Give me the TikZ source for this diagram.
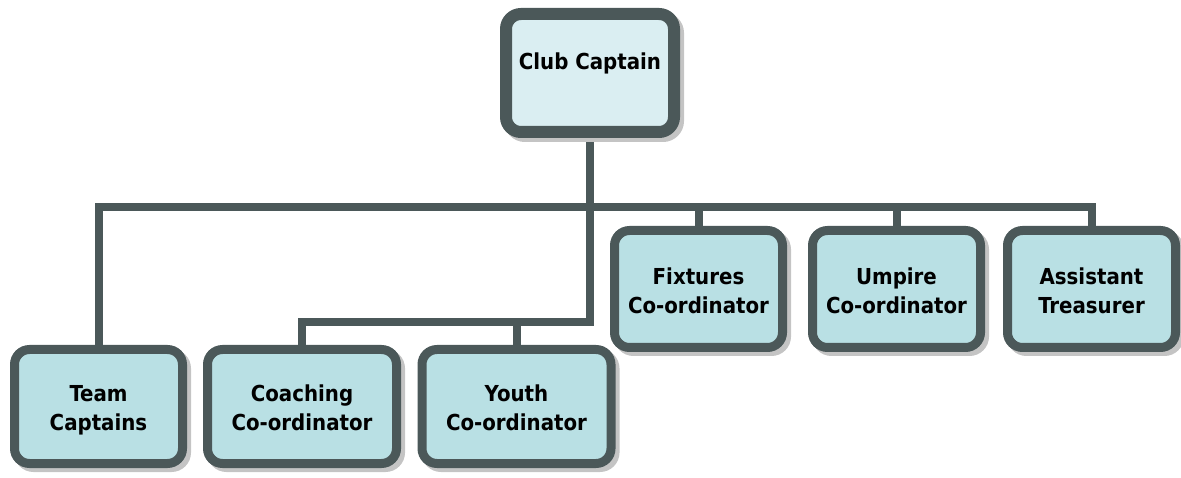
\documentclass[tikz,border=0pt]{standalone}
\usepackage{fontspec}
\usetikzlibrary{backgrounds}
\newfontfamily\boxfont{DejaVu Sans Condensed}[BoldFont={DejaVu Sans Condensed Bold}]
\definecolor{bord}{HTML}{4B5859}
\definecolor{lowfill}{HTML}{B9E0E4}
\definecolor{topfill}{HTML}{DAEEF2}
\definecolor{shad}{HTML}{C4C4C4}
\newcommand\twoline[2]{\rule{0pt}{25.7pt}#1\\#2\rule[-6pt]{0pt}{6pt}}
\begin{document}
\begin{tikzpicture}[x=1pt,y=-1pt,
  orgbox/.style={draw=bord, line width=9pt, rounded corners=15pt, fill=lowfill,
    minimum width=168pt, minimum height=114pt, align=center, inner sep=0pt,
    font=\boxfont\bfseries\fontsize{22}{29}\selectfont,
    preaction={fill=shad, draw=shad, transform canvas={shift={(4pt,-4pt)}}}},
  widebox/.style={orgbox, minimum width=189pt},
  upbox/.style={orgbox, minimum height=117pt},
  topbox/.style={orgbox, fill=topfill, line width=12pt, minimum width=168pt, minimum height=118pt},
  conn/.style={draw=bord, line width=8pt}]
\useasboundingbox (0,0) rectangle (1181,478);
\node[topbox] (cc) at (590,73) {Club Captain\rule[-23pt]{0pt}{1pt}};
\node[orgbox] (team) at (98.5,406.5) {\twoline{Team}{Captains}};
\node[widebox] (coach) at (302,406.5) {\twoline{Coaching}{Co-ordinator}};
\node[widebox] (youth) at (516.5,406.5) {\twoline{Youth}{Co-ordinator}};
\node[upbox] (fix) at (698.5,289) {\twoline{Fixtures}{Co-ordinator}};
\node[upbox] (ump) at (896.5,289) {\twoline{Umpire}{Co-ordinator}};
\node[upbox] (asst) at (1091.5,289) {\twoline{Assistant}{Treasurer}};
\coordinate (hub) at (590,207);
\coordinate (hub2) at (590,322);
\begin{scope}[on background layer]
\draw[conn] (cc.south) -- (hub2) -| (coach.north);
\draw[conn] (hub2) -| (youth.north);
\draw[conn] (hub) -| (team.north);
\draw[conn] (hub) -| (fix.north);
\draw[conn] (hub) -| (ump.north);
\draw[conn] (hub) -| (asst.north);
\end{scope}
\end{tikzpicture}
\end{document}
